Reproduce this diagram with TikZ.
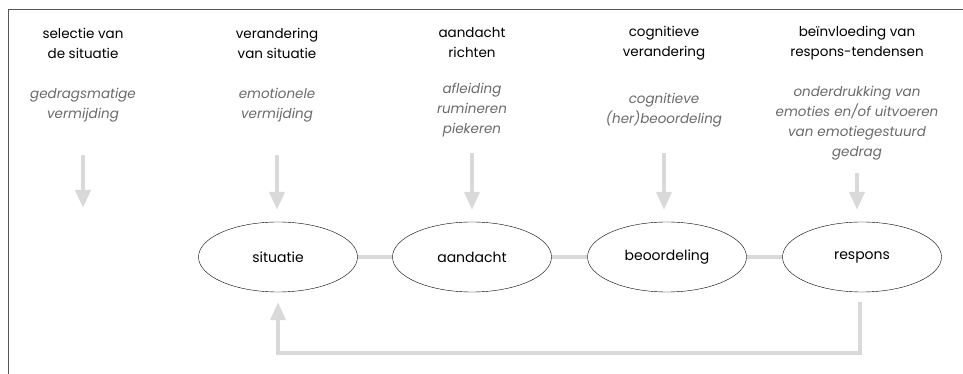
\documentclass[tikz,border=0pt]{standalone}
\usepackage{fontspec}
\setmainfont{Poppins}
\usetikzlibrary{positioning,arrows.meta,shapes.geometric}

\definecolor{lightgrey}{HTML}{D9D9D9}
\definecolor{textgrey}{HTML}{6A6A6A}
\definecolor{framegrey}{HTML}{555555}

\tikzset{every node/.style={font=\fontsize{13.5}{20}\selectfont, align=center}}
\tikzset{stage/.style={text=black}}
\tikzset{example/.style={text=textgrey, font=\fontsize{13.5}{20}\selectfont\itshape}}
\tikzset{phase/.style={shape=ellipse, draw=black, thin, minimum width=159pt, minimum height=70pt,
  font=\fontsize{14}{20}\selectfont}}
\tikzset{flow/.style={draw=lightgrey, line width=4pt}}
\tikzset{arr/.style={flow, -{Triangle[length=18pt,width=15pt]}}}

\begin{document}
\begin{tikzpicture}[x=1pt, y=1pt]
  \useasboundingbox (0,0) rectangle (963,374);
  \draw[framegrey, line width=1pt] (8,0) -- (8,364) -- (963,364);

  % strategies
  \node[stage] (selH) at (83,331) {selectie van\\de situatie};
  \node[stage] (verH) at (277,331) {verandering\\van situatie};
  \node[stage] (aanH) at (472,331) {aandacht\\richten};
  \node[stage] (cogH) at (664,331) {cognitieve\\verandering};
  \node[stage] (resH) at (857,331) {beïnvloeding van\\respons-tendensen};

  % examples
  \node[example] (selE) at (83,269) {gedragsmatige\\vermijding};
  \node[example] (verE) at (277,269) {emotionele\\vermijding};
  \node[example] (aanE) at (472,264) {afleiding\\rumineren\\piekeren};
  \node[example] (cogE) at (664,264) {cognitieve\\(her)beoordeling};
  \node[example] (resE) at (857,251) {onderdrukking van\\emoties en/of uitvoeren\\van emotiegestuurd\\gedrag};

  % process
  \node[phase] (sit) at (278,117) {situatie};
  \node[phase] (aan) at (472,117) {aandacht};
  \node[phase] (beo) at (667,117) {beoordeling};
  \node[phase] (res) at (862,117) {respons};

  \path[flow] (sit) edge (aan);
  \path[flow] (aan) edge (beo);
  \path[flow] (beo) edge (res);

  % arrows down
  \coordinate (selA) at (83,219);
  \coordinate (selB) at (83,166);
  \coordinate (verA) at (277,219);
  \coordinate (aanA) at (472,221);
  \coordinate (cogA) at (664,221);
  \coordinate (resA) at (857,201);
  \draw[arr] (selA) -- (selB);
  \draw[arr, shorten >=12pt] (verA) -- (verA |- sit.north);
  \draw[arr, shorten >=12pt] (aanA) -- (aanA |- aan.north);
  \draw[arr, shorten >=12pt] (cogA) -- (cogA |- beo.north);
  \draw[arr, shorten >=12pt] (resA) -- (resA |- res.north);

  % feedback
  \coordinate (backR) at (860,21);
  \coordinate (backL) at (278,21);
  \draw[arr, shorten <=10pt, shorten >=10pt] (res.south -| backR) -- (backR) -- (backL) -- (sit.south);
\end{tikzpicture}
\end{document}
